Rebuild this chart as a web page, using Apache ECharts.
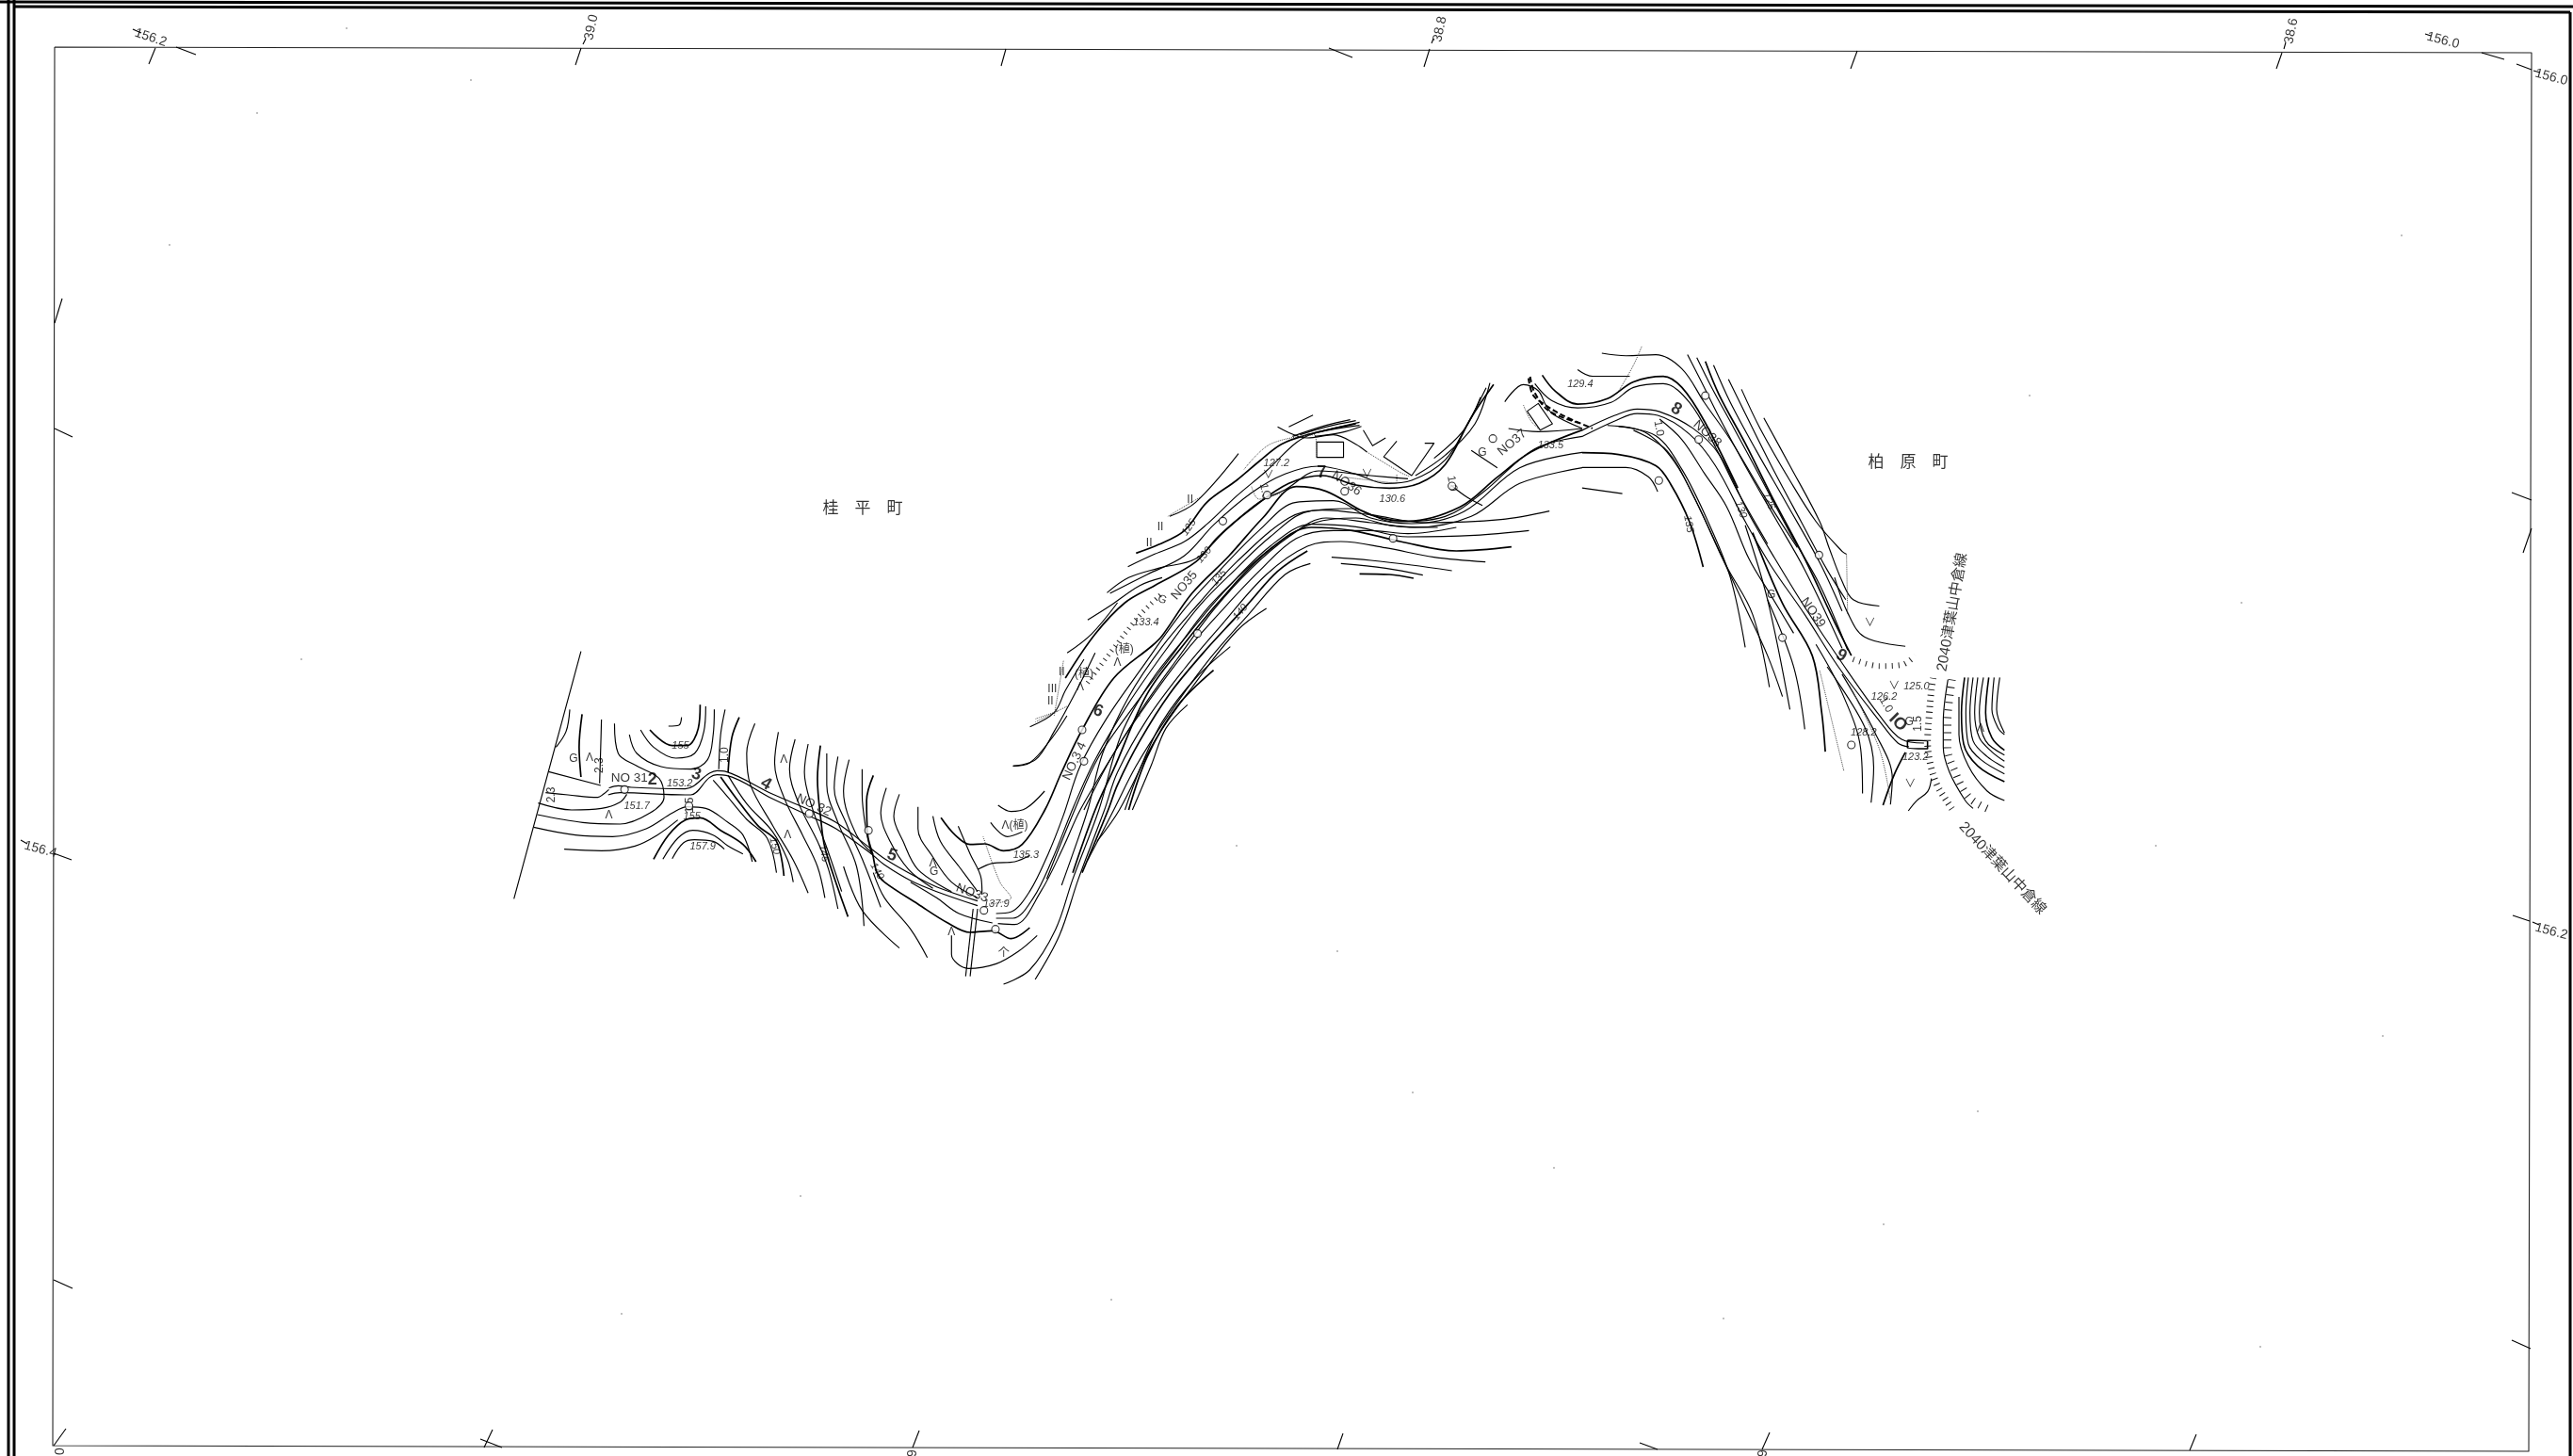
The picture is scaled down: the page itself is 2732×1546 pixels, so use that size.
<!DOCTYPE html>
<html><head><meta charset="utf-8">
<style>html,body{margin:0;padding:0;background:#fff}#c{width:2732px;height:1546px}</style>
<script src="https://cdn.jsdelivr.net/npm/echarts@6/dist/echarts.min.js"></script>
</head><body><div id="c"></div>
<script>
// ---- sheet frame (drawn directly in sheet units) ----
const frameHeavy = [
 [[9,0],[9,1546]], [[15,0],[15,1546]],
 [[0,2],[2732,7]], [[15,7],[2729,13]], [[2729,13],[2729,1546]]
];
const frameNeat = [[[58,50],[2688,56],[2685,1541],[56,1535],[58,50]]];
const gridTicks = [
 [[158,68],[165,51]],[[187,50],[208,58]],[[141,31],[150,35]],
 [[611,69],[617,51]],[[619,47],[622,41]],[[1063,70],[1068,52]],[[1411,51],[1436,61]],
 [[1512,71],[1518,52]],[[1520,46],[1522,41]],[[1965,73],[1972,54]],
 [[2417,73],[2423,56]],[[2425,52],[2427,45]],[[2575,36],[2581,38]],[[2635,56],[2659,63]],
 [[2672,68],[2688,74]],[[2690,75],[2697,77]],
 [[58,343],[66,317]],[[58,455],[77,464]],[[22,892],[29,896]],[[57,906],[76,913]],[[57,1359],[77,1368]],
 [[2667,523],[2688,531]],[[2679,587],[2688,561]],[[2668,972],[2686,978]],[[2689,979],[2696,982]],[[2667,1423],[2687,1432]],
 [[70,1517],[57,1535]],[[510,1528],[533,1537]],[[523,1518],[514,1537]],[[976,1519],[969,1537]],
 [[1426,1522],[1420,1539]],[[1741,1532],[1760,1539]],[[1879,1521],[1871,1539]],[[2332,1523],[2325,1540]]
];
const gridLabels = [
 ['156.2',160,40,-18],['39.0',628,29,78],['38.8',1529,31,78],['38.6',2433,33,78],['156.0',2594,43,-15],
 ['156.0',2709,82,-15],['156.4',43,902,-15],['156.2',2709,989,-15],['0',64,1541,90],['9',969,1543,90],['9',1872,1543,90]
];
const specks = [[273,120],[368,30],[500,85],[1313,898],[2289,898],[2155,420],[2530,1100],[1210,760],[1500,1160],[660,1395],[1420,1010],
 [2000,1300],[1180,1380],[2550,250],[2380,640],[320,700],[180,260],[2100,1180],[1830,1400],[850,1270],[2400,1430],[1650,1240]];

// ---- contours, west reach ----
const westThin = [
 [[245,95],[65,883]],
 [[215,280],[205,350],[178,400]],
 [[300,312],[298,400],[295,515]],
 [[335,325],[345,420],[395,460],[455,500],[468,560],[430,610],[350,645],[250,640],[128,615]],
 [[130,578],[220,600],[300,595],[350,575],[368,550]],
 [[118,655],[230,680],[330,685],[420,660],[490,610],[530,590],[580,595],[640,640],[680,680],[705,765]],
 [[200,725],[300,730],[390,715],[450,680],[505,632]],
 [[465,757],[505,690],[545,665],[600,680],[640,715],[680,740]],
 [[490,755],[520,705],[550,695],[600,700],[630,725]],
 [[480,333],[508,330],[515,305]],
 [[405,345],[440,400],[500,435],[550,420],[575,350],[580,270]],
 [[375,360],[395,420],[460,462],[540,470],[585,440],[600,360],[603,280]],
 [[632,280],[620,360],[615,470]],
 [[600,505],[640,560],[690,630],[745,690],[770,800]],
 [[640,490],[690,580],[760,670],[800,760],[815,830]],
 [[712,325],[690,420],[700,520],[760,650],[815,760],[855,865]],
 [[775,352],[765,450],[790,560],[840,680],[880,780],[900,880]],
 [[820,375],[805,470],[830,580],[880,700],[910,790],[935,915]],
 [[855,390],[845,480],[865,590],[905,720],[945,860]],
 [[905,420],[905,520],[935,640],[985,780],[1005,970]],
 [[935,430],[925,530],[960,650],[1005,770],[1050,910]],
 [[965,440],[950,540],[985,680],[1030,740]],
 [[1000,470],[1000,550],[1010,660],[1025,740]],
 [[1065,530],[1050,610],[1075,700],[1125,790],[1190,850]],
 [[1100,550],[1085,620],[1110,700],[1150,790],[1240,860]],
 [[1150,590],[1150,660],[1190,750],[1240,830],[1310,880]],
 [[1190,620],[1210,700],[1260,780],[1310,860]],
 [[950,780],[1000,920],[1100,1040]],
 [[1030,800],[1060,880],[1130,980],[1175,1070]],
 [[1130,830],[1200,880],[1260,930],[1350,960]],
 [[1240,1000],[1240,1060],[1285,1105],[1360,1090],[1420,1050],[1470,1000]],
 [[1258,652],[1290,740],[1320,820],[1322,870]],
 [[1310,790],[1350,770],[1410,765],[1450,745]],
 [[1365,585],[1400,605],[1440,595],[1490,540]],
 [[1405,460],[1450,450],[1510,370],[1550,300]],
 [[1345,640],[1390,685],[1430,670]]
];
const westThick = [
 [[248,295],[240,400],[245,495]],
 [[440,757],[480,680],[525,632],[565,625],[620,665],[680,710],[715,765]],
 [[430,345],[490,395],[530,395],[560,340],[565,265]],
 [[670,305],[650,370],[640,480]],
 [[620,495],[660,560],[720,650],[770,700],[790,810]],
 [[888,395],[880,500],[890,640],[900,720],[935,850],[962,940]],
 [[1030,490],[1012,570],[1015,680],[1028,740],[1040,800],[1060,830],[1150,900],[1230,960],[1290,990],[1350,985],[1400,1010],[1450,975]]
];
const westRoad = [
 [[158,478],[298,522]],
 [[150,545],[210,552],[290,560],[305,550],[320,535]],
 [[320,530],[345,523],[380,528],[525,533],[590,483],[610,475],[635,478],[760,550],[860,600],[930,640],[1020,720],[1060,755],[1140,810],[1200,845],[1310,890]],
 [[318,552],[350,545],[525,552],[540,552],[590,497],[610,488],[635,490],[760,565],[860,620],[930,660],[1025,740],[1060,775],[1130,825],[1200,860],[1310,905]],
 [[1310,915],[1290,1130]],[[1298,915],[1278,1130]]
];
const westDotted = [[[1325,685],[1370,830],[1400,880],[1340,900]],[[1465,320],[1550,270]]];

// ---- contours, middle reach (same scale family as the west reach) ----
const midThin = [
 [[348,605],[420,565],[500,525],[560,470],[640,380],[720,300],[800,210],[850,180],[970,155]],
 [[292,688],[350,640],[430,610],[530,580],[610,490],[700,400],[770,360],[860,300],[1000,315],[1100,325]],
 [[240,775],[300,730],[380,665],[440,640]],
 [[185,880],[250,820],[320,720]],
 [[85,1115],[150,1070],[180,1000],[230,900]],
 [[40,1240],[100,1220],[150,1130],[210,1000],[260,880]],
 [[460,445],[530,400],[645,245]],
 [[300,690],[400,630],[500,570],[580,470],[680,370],[770,310],[860,285],[960,310],[1040,340],[1110,330],[1200,265],[1260,150],[1310,35]],
 [[-6,1710],[34,1705],[84,1640],[134,1520],[174,1400],[220,1240],[290,1090],[390,920],[500,740],[600,610],[700,490],[800,400],[900,395],[1000,450],[1110,468],[1250,430],[1400,290],[1568,241]],
 [[-6,1725],[39,1725],[94,1660],[144,1540],[202,1370],[260,1220],[350,1040],[450,870],[540,730],[640,610],[730,510],[830,430],[950,420],[1060,462],[1200,445],[1300,370],[1440,230],[1568,190]],
 [[-1,1742],[44,1745],[114,1640],[174,1500],[220,1380],[300,1220],[390,1050],[480,900],[580,740],[680,610],[780,510],[880,450],[1000,465],[1120,480],[1270,445],[1400,340],[1568,290]],
 [[130,1600],[205,1380],[270,1210],[370,1040],[465,890],[560,740],[660,620],[750,530],[850,465],[960,450],[1060,475],[1180,480]],
 [[230,1380],[310,1200],[400,1040],[500,880],[600,745],[700,620],[800,515],[900,490],[1000,490],[1100,500],[1230,480]],
 [[1480,428],[1350,455],[1150,465],[1000,440],[870,425],[780,450],[640,590],[540,720],[440,860],[350,1020],[280,1200],[240,1380],[200,1520],[170,1620]],
 [[1425,490],[1280,505],[1100,510],[960,478],[840,470],[730,540],[610,680],[510,820],[410,970],[330,1140],[270,1380],[200,1600],[154,1760],[84,1890],[14,1935]],
 [[1308,590],[1170,575],[1040,545],[920,525],[830,540],[720,630],[600,790],[500,930],[400,1090],[320,1260],[285,1380],[215,1600],[164,1780],[99,1920]],
 [[838,595],[770,630],[670,760],[560,910],[450,1090],[370,1240],[310,1380],[240,1540]],
 [[720,738],[640,810],[520,990],[420,1160],[325,1380],[265,1480]],
 [[623,860],[530,960],[440,1100],[380,1250],[340,1380]],
 [[508,1045],[450,1120],[410,1240],[360,1380]],
 [[895,575],[1000,585],[1110,600],[1218,618]],
 [[920,595],[1040,610],[1140,632]],
 [[1320,20],[1280,150],[1200,250],[1120,315]],
 [[1295,65],[1250,170],[1170,260]],
 [[750,160],[830,195],[900,185],[960,215],[990,240]],
 [[780,160],[845,122]],
 [[790,190],[880,155],[945,137]],
 [[810,185],[880,160],[960,140]],
 [[830,185],[880,170],[970,145]],
 [[850,190],[920,178],[975,158]],
 [[1360,80],[1410,25],[1450,45],[1470,90],[1490,120],[1568,165]],
 [[1370,165],[1450,175],[1568,165]],
 [[1300,410],[1260,385],[1215,345]],
 [[1340,290],[1270,235]]
];
const midThick = [
 [[370,562],[430,535],[500,490],[560,400],[640,330],[700,270],[760,215],[830,185],[960,150]],
 [[180,960],[260,820],[340,720],[420,665],[530,590],[590,510],[680,420],[780,340],[870,315],[960,345],[1050,355],[1130,340],[1200,280],[1270,130],[1330,25]],
 [[-154,1405],[-116,1460],[-76,1490],[-36,1488],[14,1510],[64,1490],[125,1380],[170,1260],[225,1125],[310,960],[415,855],[440,825],[520,690],[620,570],[710,450],[800,350],[880,365],[1000,440],[1100,460],[1240,415],[1340,320],[1430,240],[1568,170]],
 [[1378,542],[1230,555],[1080,525],[950,490],[840,480],[720,560],[590,720],[500,850],[400,1010],[310,1250],[260,1380],[200,1580]],
 [[830,555],[750,620],[670,725],[635,770],[550,880],[460,1010],[380,1160],[320,1300],[295,1380],[225,1580]],
 [[578,935],[480,1050],[400,1210],[350,1380]],
 [[970,628],[1050,630],[1115,642]]
];
const midStruct = [
 [[855,208],[927,208],[927,257],[855,257],[855,208]],
 [[980,170],[1005,220],[1040,195]],
 [[1070,205],[1035,255],[1110,315],[1170,212],[1145,212]],
 [[1420,110],[1450,85],[1488,150],[1455,170],[1420,110]]
];
const midDashed = [[[1428,0],[1440,50],[1480,110],[1568,150]]];
const midDotted = [
 [[100,1090],[160,1065]],[[455,445],[540,385]],[[660,295],[730,215],[850,185],[855,255]],
 [[990,240],[1080,305],[1105,318]],[[680,350],[700,390],[760,370]],
 [[150,1080],[175,905]],[[1410,90],[1430,140],[1455,170]],[[930,320],[1070,340],[1070,310]]
];
const midHachure = [[[240,975],[300,880],[380,760],[440,690]]];

// ---- contours, east reach ----
const eastThin = [
 [[255,38],[320,45],[400,42],[470,80],[530,170],[600,270],[690,420],[780,560]],
 [[190,82],[230,100],[330,100]],
 [[75,120],[120,165],[190,185],[280,170],[340,130],[420,120],[490,170],[560,290],[620,410],[700,550]],
 [[485,42],[520,110],[570,210],[640,340],[720,480],[800,620],[900,830]],
 [[510,50],[550,130],[610,240],[680,370],[760,520],[840,660],[915,835]],
 [[555,70],[600,170],[670,300],[750,440],[840,600],[900,730]],
 [[595,108],[640,200],[710,340],[790,490],[860,620],[910,700]],
 [[630,135],[680,240],[760,380],[830,490],[900,570],[912,578]],
 [[690,212],[760,340],[840,490],[865,560],[900,650],[930,700],[1000,717]],
 [[880,640],[915,735],[960,800],[1070,825]],
 [[410,215],[470,270],[530,360],[590,450],[650,590],[710,690],[770,790]],
 [[270,232],[370,250],[450,330],[520,460],[590,610],[660,740],[705,935]],
 [[300,235],[400,260],[470,350],[540,490],[600,640],[640,828]],
 [[340,245],[430,300],[500,420],[570,570],[640,720],[700,850],[740,960]],
 [[202,345],[320,345],[380,370],[405,410]],
 [[202,400],[310,415]],
 [[640,500],[700,700],[760,995]],
 [[700,700],[770,880],[800,1048]],
 [[830,820],[900,950],[950,1100],[955,1220]],
 [[860,880],[960,1040],[985,1150],[978,1245]],
 [[900,900],[990,1060],[1035,1180],[1030,1250]],
 [[1078,1267],[1100,1240],[1130,1215],[1140,1180]]
];
const eastThick = [
 [[95,97],[130,140],[190,175],[270,160],[340,115],[420,100],[470,130],[530,220],[620,400]],
 [[533,60],[570,150],[640,280],[710,420],[800,590],[880,760],[925,850]],
 [[202,305],[300,310],[400,340],[440,390],[490,490],[527,612]],
 [[660,520],[740,710],[820,850],[845,1000],[855,1108]],
 [[1070,1110],[1040,1170],[1010,1252]]
];
const eastRoad = [
 [[202,245],[290,205],[350,188],[410,195],[500,240],[570,310],[650,470],[720,590],[800,720],[900,870],[1000,1010],[1060,1075],[1120,1085]],
 [[202,262],[290,220],[350,200],[405,205],[490,255],[560,340],[640,490],[710,610],[800,740],[890,880],[1000,1025],[1050,1085],[1080,1095]]
];
const eastDotted = [[[362,20],[340,70],[300,140]],[[912,578],[915,740]],[[840,890],[905,1160]],[[920,930],[1000,1100],[1030,1240]]];
const eastDashed = [[[58,105],[70,150],[100,175],[150,205],[230,240]]];
const eastHachure = [[[930,860],[1000,878],[1060,875],[1097,850]]];

// ---- cut slopes and hill at the road end (junction crop) ----
const endThin = [
 [[205,65],[190,200],[190,280],[210,360],[260,450],[285,475]],
 [[240,120],[240,240],[270,340],[330,420],[385,450]],
 [[270,58],[262,170],[270,270],[310,320],[385,365]],
 [[285,58],[275,170],[285,260],[330,310],[385,345]],
 [[300,58],[290,170],[305,250],[345,295],[385,325]],
 [[318,58],[305,170],[325,260],[385,305]],
 [[352,58],[345,160],[365,220],[385,240]],
 [[370,58],[360,160],[385,235]]
];
const endThick = [
 [[258,58],[248,170],[255,270],[300,340],[385,390]],
 [[335,58],[325,170],[345,250],[385,290]],
 [[76,258],[140,262],[140,285],[76,282],[76,258]]
];
const endHachureA = [[[158,60],[152,100],[145,180],[140,260],[148,330],[170,400],[200,450],[220,480]]];
const endHachureB = [[[218,65],[204,200],[204,280],[224,350],[272,440],[335,478]]];

// ---- circles (survey stakes) ----
const westStakes = [[362,535],[1017,665],[1358,980],[535,587],[858,612],[1327,920]];
const midStakes = [[603,460],[535,818],[1060,515],[1328,197],[722,377],[930,365],[225,1125],[230,1225],[1218,348]];
const eastStakes = [[533,152],[515,270],[408,380],[838,580],[740,802],[925,1090]];

// ---- texts: [text, x, y, rotation] ----
const townNames = [['桂　平　町',916,540,0],['柏　原　町',2026,491,0]];
const routeNames = [['2040津葉山中倉線',2073,650,80],['2040津葉山中倉線',2126,922,-47]];
const westStations = [['2',437,503,0],['3',555,487,-15],['4',742,517,-30],['5',1080,745,-20]];
const midStations = [['6',268,1065,-20],['7',868,305,0]];
const eastStations = [['8',455,188,-30],['9',898,850,-30],['IO',1050,1030,-45]];
const westNos = [['NO 31',375,500,0],['NO 32',870,585,-25],['NO33',1295,865,-20]];
const midNos = [['NO.3 4',205,1225,65],['NO35',500,665,50],['NO36',935,340,-35],['NO37',1380,210,40]];
const eastNos = [['NO38',538,255,-42],['NO39',822,735,-55]];
const westSpots = [['155',512,397,0],['153.2',510,515,0],['151.7',395,587,0],['155',543,620,0],['157.9',572,718,0],['150',765,715,-75],['145',897,738,-80],['140',1040,795,-60],['135.3',1440,745,0],['137.9',1360,900,0]];
const midSpots = [['127.2',747,275,0],['133.4',397,783,0],['130.6',1058,390,0],['133.5',1483,220,0],['125',512,480,55],['130',553,568,50],['135',593,640,50],['140',650,750,50]];
const eastSpots = [['129.4',197,122,0],['125',703,435,-70],['130',628,458,-70],['135',488,497,-80],['126.2',1013,962,0],['125.0',1100,933,0],['128.2',958,1057,0],['123.2',1097,1122,0]];
const westSigns = [['G',225,437,0],['Λ',268,435,0],['2.3',295,458,90],['2.3',167,552,90],['1.0',632,425,90],['1.5',537,585,90],['Λ',320,618,0],['Λ',790,440,0],['Λ',800,680,0],['Λ',1240,990,0],['Λ',1190,770,0],['G',1193,797,0],['个',1380,1055,0],['Λ(植)',1410,650,0]];
const midSigns = [['G',440,710,-20],['G',1300,243,0],['(植)',338,870,0],['Λ',320,910,0],['(植)',230,947,0],['Λ',220,990,0],['1.0',1218,340,-80],['1.0',715,365,-80],['II',515,393,0],['II',435,480,0],['II',405,530,0],['II',170,940,0],['III',145,995,0],['II',140,1035,0],['∨',990,310,0],['∨',725,315,0]];
const eastSigns = [['1.0',408,240,-80],['1.0',1018,982,-60],['G',710,688,0],['G',1080,1028,0],['1.5',1105,1033,90],['∨',975,763,0],['∨',1040,932,0],['∨',1083,1195,0],['Λ',1272,1045,0]];

// ---- crops used to read the sheet: origin and horizontal / vertical reading scale ----
const west = {x0:520,y0:660,sx:2.529,sy:3}, mid = {x0:1060,y0:400,sx:2.529,sy:3},
      east = {x0:1600,y0:360,sx:2.529,sy:2.529}, end = {x0:2000,y0:700,sx:3,sy:3}, sheet = {x0:0,y0:0,sx:1,sy:1};
const at = (f,p)=>[f.x0+p[0]/f.sx, f.y0+p[1]/f.sy];

const INK = '#000';
const THIN = 1.15, HEAVY = 1.7;
const series = [];
function lines(list,f,width,opt){
  opt = opt||{};
  list.forEach(l=>series.push({type:'line',data:l.map(p=>at(f,p)),symbol:'none',smooth:opt.smooth===undefined?0.35:opt.smooth,silent:true,animation:false,clip:false,
    lineStyle:{color:opt.color||INK,width,type:opt.type||'solid',cap:'butt',join:'round',dashOffset:0}}));
}
function texts(list,f,size,opt){
  opt=opt||{};
  series.push({type:'scatter',symbolSize:0,silent:true,animation:false,
    data:list.map(t=>({value:at(f,[t[1],t[2]]),label:{show:true,position:'inside',formatter:()=>t[0],rotate:t[3],fontSize:size,
      fontFamily:opt.family||'"Liberation Sans","Noto Sans CJK JP",sans-serif',fontStyle:opt.italic?'italic':'normal',fontWeight:opt.bold?'bold':'normal',color:opt.color||INK}}))});
}
function rings(list,f){
  series.push({type:'scatter',symbol:'circle',symbolSize:8,silent:true,animation:false,
    itemStyle:{color:'#fff',borderColor:INK,borderWidth:1.1},z:3,data:list.map(p=>at(f,p))});
}
// frame
lines(frameHeavy,sheet,3,{smooth:0,color:'#000'});
lines(frameNeat,sheet,1.1,{smooth:0,color:'#222'});
lines(gridTicks,sheet,1.1,{smooth:0});
texts(gridLabels,sheet,14);
series.push({type:'scatter',symbolSize:2,silent:true,animation:false,itemStyle:{color:'#999'},data:specks});
// contours
lines(westThin,west,THIN); lines(westThick,west,HEAVY); lines(westRoad,west,THIN);
lines(westDotted,west,1,{type:'dotted',color:'#444'});
lines(midThin,mid,THIN); lines(midThick,mid,HEAVY); lines(midStruct,mid,1.1,{smooth:0}); lines(midDashed,mid,2,{type:[6,3]});
lines(midDotted,mid,1,{type:'dotted',color:'#444'}); lines(midHachure,mid,5,{type:[1,5],color:'#222'});
lines(eastThin,east,THIN); lines(eastThick,east,HEAVY); lines(eastRoad,east,THIN);
lines(eastDotted,east,1,{type:'dotted',color:'#444'}); lines(eastDashed,east,2,{type:[6,3]}); lines(eastHachure,east,6,{type:[1,6],color:'#222'});
lines(endThin,end,THIN); lines(endThick,end,1.6); lines(endHachureA,end,7,{type:[1,5],color:'#111'}); lines(endHachureB,end,8,{type:[1,7],color:'#111'});
rings(westStakes,west); rings(midStakes,mid); rings(eastStakes,east);
// text
texts(townNames,sheet,17);
texts(routeNames,sheet,15.5);
texts(westStations,west,18,{bold:true}); texts(midStations,mid,18,{bold:true}); texts(eastStations,east,18,{bold:true});
texts(westNos,west,13.5); texts(midNos,mid,13.5); texts(eastNos,east,13.5);
texts(westSpots,west,11,{italic:true}); texts(midSpots,mid,11,{italic:true}); texts(eastSpots,east,11,{italic:true});
texts(westSigns,west,12); texts(midSigns,mid,12); texts(eastSigns,east,12);

const chart = echarts.init(document.getElementById('c'),null,{renderer:'canvas'});
chart.setOption({
  animation:false,backgroundColor:'#fff',
  grid:{left:0,right:0,top:0,bottom:0},
  xAxis:{type:'value',min:0,max:2732,show:false},
  yAxis:{type:'value',min:0,max:1546,inverse:true,show:false},
  tooltip:{show:false},legend:{show:false},
  series
});
</script></body></html>
